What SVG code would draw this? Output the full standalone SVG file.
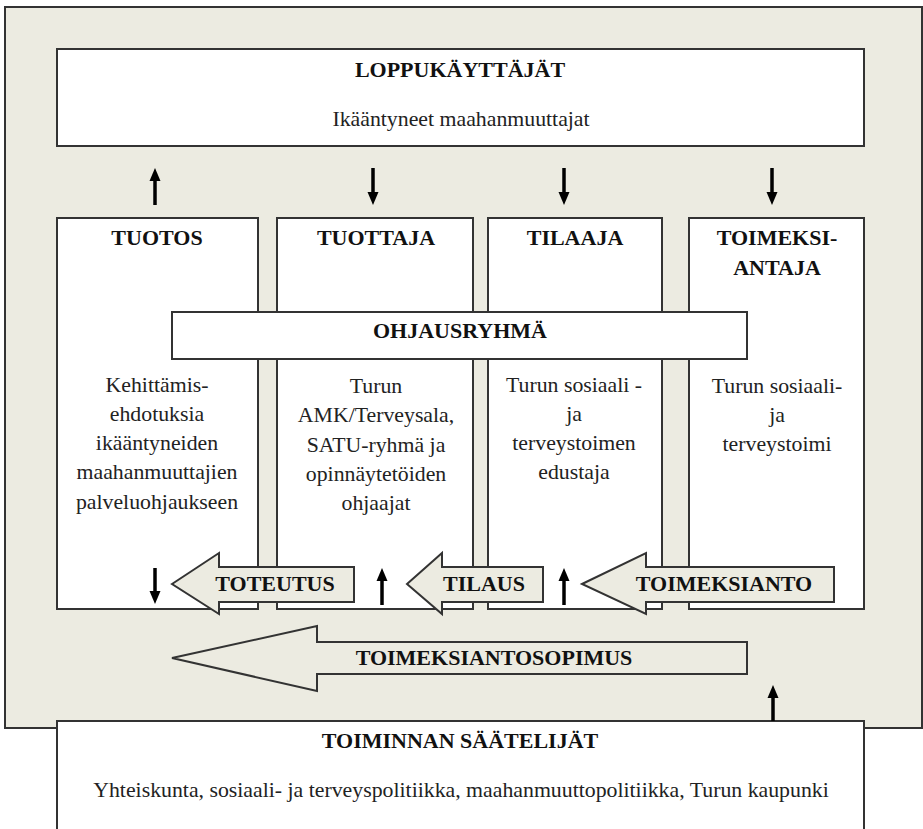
<svg xmlns="http://www.w3.org/2000/svg" width="923" height="829" viewBox="0 0 923 829">
<style>
.box{fill:#fff;stroke:#333;stroke-width:2}
.bg{fill:#ECEBE1;stroke:#333;stroke-width:2}
.blk{fill:#ECEBE1;stroke:#333;stroke-width:2}
text{font-family:'Liberation Serif','DejaVu Serif','Times New Roman',serif;text-anchor:middle}
.t{font-weight:bold;font-size:22px;fill:#111}
.b{font-size:21.8px;fill:#222}
.sh{stroke:#000;stroke-width:3.5}
.hd{fill:#000}
</style>
<rect width="923" height="829" fill="#fff"/>
<rect class="bg" x="5" y="7" width="917" height="721"/>

<g id="loppukayttajat">
<rect class="box" x="57" y="49" width="807" height="97"/>
<text class="t" x="460" y="77">LOPPUKÄYTTÄJÄT</text>
<text class="b" x="461" y="126">Ikääntyneet maahanmuuttajat</text>
</g>

<g id="tuotos">
<rect class="box" x="57" y="218" width="201" height="391"/>
<text class="t" x="157" y="245">TUOTOS</text>
<text class="b" x="157" y="392">Kehittämis-</text>
<text class="b" x="157" y="421">ehdotuksia</text>
<text class="b" x="157" y="450">ikääntyneiden</text>
<text class="b" x="157" y="479">maahanmuuttajien</text>
<text class="b" x="157" y="509">palveluohjaukseen</text>
</g>

<g id="tuottaja">
<rect class="box" x="277" y="218" width="196" height="391"/>
<text class="t" x="376" y="245">TUOTTAJA</text>
<text class="b" x="376" y="393">Turun</text>
<text class="b" x="376" y="422">AMK/Terveysala,</text>
<text class="b" x="376" y="452">SATU-ryhmä ja</text>
<text class="b" x="376" y="481">opinnäytetöiden</text>
<text class="b" x="376" y="510">ohjaajat</text>
</g>

<g id="tilaaja">
<rect class="box" x="488" y="218" width="174" height="391"/>
<text class="t" x="575" y="245">TILAAJA</text>
<text class="b" x="574" y="392">Turun sosiaali -</text>
<text class="b" x="574" y="421">ja</text>
<text class="b" x="574" y="450">terveystoimen</text>
<text class="b" x="574" y="479">edustaja</text>
</g>

<g id="toimeksiantaja">
<rect class="box" x="689" y="218" width="175" height="391"/>
<text class="t" x="777" y="245">TOIMEKSI-</text>
<text class="t" x="777" y="275">ANTAJA</text>
<text class="b" x="777" y="393">Turun sosiaali-</text>
<text class="b" x="777" y="422">ja</text>
<text class="b" x="777" y="451">terveystoimi</text>
</g>

<g id="ohjausryhma">
<rect class="box" x="172" y="312" width="575" height="47"/>
<text class="t" x="460" y="338">OHJAUSRYHMÄ</text>
</g>

<g id="saatelijat">
<rect class="box" x="57" y="721" width="807" height="120"/>
<text class="t" x="460" y="748">TOIMINNAN SÄÄTELIJÄT</text>
<text class="b" x="461" y="797">Yhteiskunta, sosiaali- ja terveyspolitiikka, maahanmuuttopolitiikka, Turun kaupunki</text>
</g>

<g id="connectors">
<line class="sh" x1="155" y1="205" x2="155" y2="178"/><polygon class="hd" points="155,168 149.5,181 160.5,181"/>
<line class="sh" x1="373" y1="168" x2="373" y2="195"/><polygon class="hd" points="373,205 367.5,192 378.5,192"/>
<line class="sh" x1="564" y1="168" x2="564" y2="195"/><polygon class="hd" points="564,205 558.5,192 569.5,192"/>
<line class="sh" x1="772" y1="168" x2="772" y2="195"/><polygon class="hd" points="772,205 766.5,192 777.5,192"/>

<line class="sh" x1="155" y1="568" x2="155" y2="593"/><polygon class="hd" points="155,604 149.5,591 160.5,591"/>
<line class="sh" x1="382" y1="605" x2="382" y2="578"/><polygon class="hd" points="382,568 376.5,581 387.5,581"/>
<line class="sh" x1="564" y1="605" x2="564" y2="578"/><polygon class="hd" points="564,568 558.5,581 569.5,581"/>
<line class="sh" x1="773" y1="721" x2="773" y2="695"/><polygon class="hd" points="773,685 767.5,698 778.5,698"/>

<g id="toteutus">
<polygon class="blk" points="172,584 219,553 219,567 354,567 354,602 219,602 219,614"/>
<text class="t" x="275" y="591">TOTEUTUS</text>
</g>
<g id="tilaus">
<polygon class="blk" points="407,584 442,553 442,567 543,567 543,602 442,602 442,614"/>
<text class="t" x="484" y="591">TILAUS</text>
</g>
<g id="toimeksianto">
<polygon class="blk" points="582,584 646,553 646,567 834,567 834,602 646,602 646,614"/>
<text class="t" x="724" y="591">TOIMEKSIANTO</text>
</g>
<g id="toimeksiantosopimus">
<polygon class="blk" points="172,658 317,626 317,642 747,642 747,674 317,674 317,691"/>
<text class="t" x="494" y="665" font-size="22.6">TOIMEKSIANTOSOPIMUS</text>
</g>
</g>
</svg>
